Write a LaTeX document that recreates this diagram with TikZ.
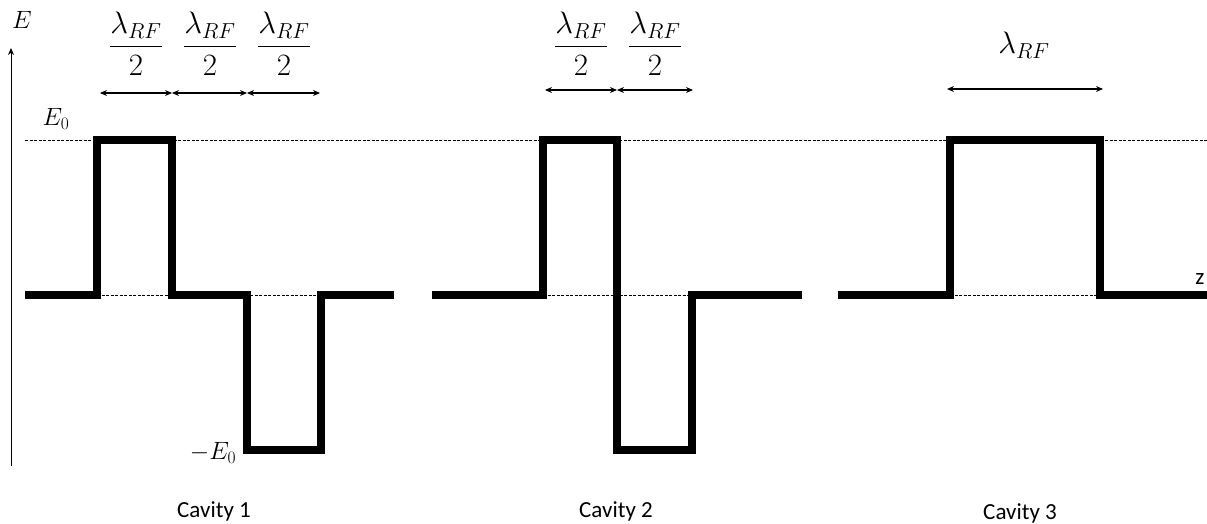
\documentclass[tikz,border=0pt]{standalone}
\usepackage{fix-cm}
\usepackage{amsmath}
\usepackage{fontspec}
\newfontfamily\calib{Carlito}
\usetikzlibrary{arrows.meta}
\begin{document}
\begin{tikzpicture}[x=1pt,y=-1pt,
  wave/.style={line width=7.5pt,line join=miter,line cap=butt},
  guide/.style={line width=0.7pt,dash pattern=on 3pt off 1.5pt},
  dim/.style={{Stealth[length=7pt,width=6pt]}-{Stealth[length=7pt,width=6pt]},line width=1.1pt},
  axis/.style={-{Stealth[length=7pt,width=6pt]},line width=1pt},
  mlabel/.style={inner sep=0pt,font=\fontsize{25}{30}\selectfont},
  flabel/.style={inner sep=0pt,font=\fontsize{31}{36}\selectfont},
  cav/.style={inner sep=0pt,font=\calib\fontsize{23}{26}\selectfont}]
\useasboundingbox (0,0) rectangle (1207,524);
% guides
\coordinate (g0a) at (25,140); \coordinate (g0b) at (1207,140);
\draw[guide] (g0a) -- (g0b);
\coordinate (z1a) at (97,295); \coordinate (z1b) at (321,295);
\coordinate (z2a) at (543,295); \coordinate (z2b) at (692,295);
\coordinate (z3a) at (950,295); \coordinate (z3b) at (1100,295);
\draw[guide] (z1a) -- (z1b);
\draw[guide] (z2a) -- (z2b);
\draw[guide] (z3a) -- (z3b);
% axis
\coordinate (ax0) at (11,466); \coordinate (ax1) at (11,48);
\draw[axis] (ax0) -- (ax1);
\node[mlabel] (Elab) at (22,20) {$E$};
\node[mlabel] (E0) at (56,119) {$E_0$};
\node[mlabel] (mE0) at (213,453) {$-E_0$};
% cavity 1
\draw[wave] (25,295) -- (97,295) -- (97,140) -- (172,140) -- (172,295) -- (247,295) -- (247,450) -- (321,450) -- (321,295) -- (394,295);
% cavity 2
\draw[wave] (432,295) -- (543,295) -- (543,140) -- (617,140) -- (617,450) -- (692,450) -- (692,295) -- (802,295);
% cavity 3
\draw[wave] (838,295) -- (950,295) -- (950,140) -- (1100,140) -- (1100,295) -- (1207,295);
% dimension arrows cavity 1
\coordinate (a1) at (100,93); \coordinate (a2) at (172,93); \coordinate (a3) at (247,93); \coordinate (a4) at (320,93);
\draw[dim] (a1) -- (a2);
\draw[dim] (a2) -- (a3);
\draw[dim] (a3) -- (a4);
\node[flabel] (f11) at (136,44) {$\dfrac{\lambda_{RF}}{2}$};
\node[flabel] (f12) at (210,44) {$\dfrac{\lambda_{RF}}{2}$};
\node[flabel] (f13) at (284,44) {$\dfrac{\lambda_{RF}}{2}$};
% cavity 2
\coordinate (b1) at (545,90); \coordinate (b2) at (617,90); \coordinate (b3) at (693,90);
\draw[dim] (b1) -- (b2);
\draw[dim] (b2) -- (b3);
\node[flabel] (f21) at (581,44) {$\dfrac{\lambda_{RF}}{2}$};
\node[flabel] (f22) at (655,44) {$\dfrac{\lambda_{RF}}{2}$};
% cavity 3
\coordinate (c1) at (947,89); \coordinate (c2) at (1103,89);
\draw[dim] (c1) -- (c2);
\node[flabel] (f31) at (1024,45) {$\lambda_{RF}$};
% z label
\node[cav,anchor=base] (zlab) at (1200,284) {z};
% cavity labels
\node[cav] (cv1) at (214,511) {Cavity 1};
\node[cav] (cv2) at (616,511) {Cavity 2};
\node[cav] (cv3) at (1020,513) {Cavity 3};
\end{tikzpicture}
\end{document}
